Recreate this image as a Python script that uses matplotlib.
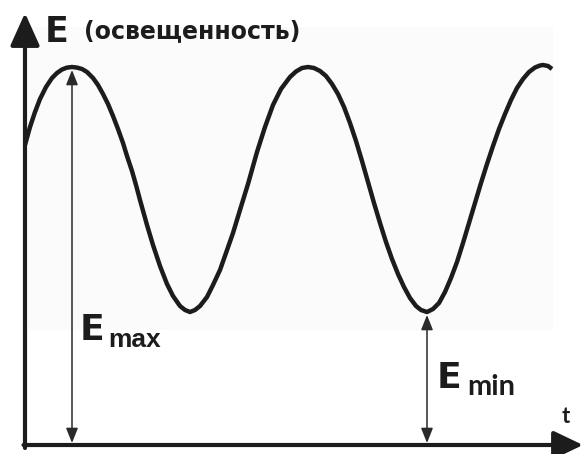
import matplotlib
matplotlib.use('Agg')
from matplotlib import pyplot as plt
from matplotlib.patches import Rectangle

# illuminance E over time t (arbitrary units)
t = [0, 5, 10, 15, 21, 27, 32, 37, 42, 47, 52, 57, 62, 68, 73, 78, 83, 88, 93,
     98, 102, 107, 111, 115, 122, 128, 135, 142, 148, 155, 160, 165,
     170, 175, 182, 188, 195, 201, 208, 215, 223, 232, 240, 248, 256, 265,
     271, 277, 283,
     289, 295, 301, 307, 313, 319, 325, 331, 337, 343, 349, 355, 361, 367,
     373, 379, 385, 391, 396, 402,
     408, 414, 420, 426, 432, 438, 444, 450, 456, 462, 468, 474, 480, 486,
     492, 498, 504, 510, 515, 518, 523, 527]
E = [300, 318, 333, 346, 358, 367, 372, 375.5, 377.4, 378, 377.4, 376, 373,
     367, 360, 351, 341, 329, 316,
     302, 289, 274, 260, 245, 220, 200, 179, 161, 149, 139, 135, 133,
     135, 139, 148, 160, 175, 192, 212, 235, 261, 293, 318, 340, 356, 368,
     373.5, 377, 378,
     377, 374, 369, 361, 351, 338, 322, 304, 284, 263, 242, 222, 203, 186,
     171, 158, 147, 139, 135, 133,
     136, 142, 153, 167, 183, 202, 222, 242, 262, 281, 299, 316, 331, 345,
     357, 366, 373, 377.5, 379.5, 380, 379, 376]

E_max = 378
E_min = 133
t_emax = 47
t_emin = 402

ink = '#1c1c1c'

fig = plt.figure(figsize=(5.84, 4.54), dpi=100)
ax = fig.add_axes([0, 0, 1, 1])
ax.set_xlim(-25, 559)
ax.set_ylim(-9, 445)
ax.axis('off')

# very faint grey backdrop behind the curve
ax.add_patch(Rectangle((3, 115), 525, 303, facecolor='#fbfbfb',
                       edgecolor='none', zorder=0))

# the curve
ax.plot(t, E, color=ink, lw=3.2, solid_joinstyle='round',
        solid_capstyle='butt', zorder=3)

# axes with arrows
ax.annotate('', xy=(0, 432), xytext=(0, -3),
            arrowprops=dict(arrowstyle='-|>,head_length=1.0,head_width=0.45',
                            mutation_scale=20, lw=3.0, color=ink,
                            shrinkA=0, shrinkB=0), zorder=4)
ax.annotate('', xy=(558, 0), xytext=(-1.5, 0),
            arrowprops=dict(arrowstyle='-|>,head_length=0.9,head_width=0.43',
                            mutation_scale=20, lw=3.0, color=ink,
                            shrinkA=0, shrinkB=0), zorder=4)

# Emax and Emin double arrows
for tx, top in [(t_emax, E_max), (t_emin, E_min)]:
    ax.annotate('', xy=(tx, top - 3), xytext=(tx, 2),
                arrowprops=dict(arrowstyle='<|-|>,head_length=0.9,head_width=0.36',
                                mutation_scale=10, lw=1.1, color='#2a2a2a',
                                shrinkA=0, shrinkB=0), zorder=2)

# labels
ax.text(20, 403, 'E', fontsize=25, fontweight='bold', color=ink, va='baseline')
ax.text(59, 407, '(освещенность)', fontsize=17, fontweight='bold', color=ink,
        va='baseline')
ax.text(55, 105, 'E', fontsize=26, fontweight='bold', color=ink, va='baseline')
ax.text(83, 98, 'max', fontsize=19, fontweight='bold', color=ink,
        family='Liberation Sans', va='baseline')
ax.text(412, 57, 'E', fontsize=26, fontweight='bold', color=ink, va='baseline')
ax.text(442, 50, 'min', fontsize=21, fontweight='bold', color=ink,
        family='Lato', va='baseline')
ax.text(537, 22, 't', fontsize=16, fontweight='bold', color=ink,
        family='Lato', va='baseline')

fig.savefig('out.png', dpi=100)
